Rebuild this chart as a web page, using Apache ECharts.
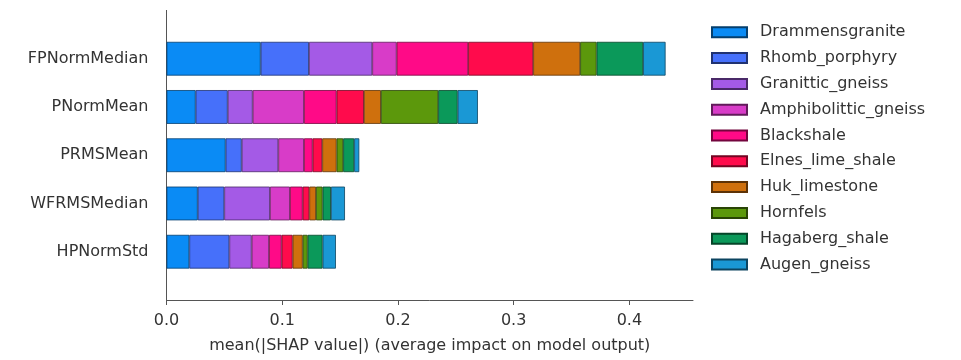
<!DOCTYPE html>
<html>
<head>
<meta charset="utf-8">
<script src="https://cdn.jsdelivr.net/npm/echarts@6/dist/echarts.min.js"></script>
<style>
html,body{margin:0;padding:0;background:#fff;}
#chart{width:961px;height:360px;}
</style>
</head>
<body>
<div id="chart"></div>
<script>
// ---- data ----
const features = ['FPNormMedian', 'PNormMean', 'PRMSMean', 'WFRMSMedian', 'HPNormStd'];
const classNames = ['Drammensgranite', 'Rhomb_porphyry', 'Granittic_gneiss', 'Amphibolittic_gneiss', 'Blackshale',
  'Elnes_lime_shale', 'Huk_limestone', 'Hornfels', 'Hagaberg_shale', 'Augen_gneiss'];
const Drammensgranite      = [0.0814, 0.0252, 0.0511, 0.0270, 0.0197];
const Rhomb_porphyry       = [0.0417, 0.0277, 0.0139, 0.0229, 0.0346];
const Granittic_gneiss     = [0.0547, 0.0216, 0.0316, 0.0395, 0.0193];
const Amphibolittic_gneiss = [0.0211, 0.0443, 0.0222, 0.0173, 0.0150];
const Blackshale           = [0.0618, 0.0282, 0.0075, 0.0110, 0.0109];
const Elnes_lime_shale     = [0.0562, 0.0236, 0.0083, 0.0057, 0.0095];
const Huk_limestone        = [0.0406, 0.0147, 0.0124, 0.0058, 0.0087];
const Hornfels             = [0.0142, 0.0495, 0.0057, 0.0057, 0.0043];
const Hagaberg_shale       = [0.0402, 0.0168, 0.0095, 0.0072, 0.0129];
const Augen_gneiss         = [0.0194, 0.0175, 0.0044, 0.0121, 0.0115];
const xTickValues = [0, 0.1, 0.2, 0.3, 0.4];
const xTickLabels = ['0.0', '0.1', '0.2', '0.3', '0.4'];
const xTitle = 'mean(|SHAP value|) (average impact on model output)';

// ---- styles ----
const seriesValues = [Drammensgranite, Rhomb_porphyry, Granittic_gneiss, Amphibolittic_gneiss, Blackshale,
  Elnes_lime_shale, Huk_limestone, Hornfels, Hagaberg_shale, Augen_gneiss];
const colors = ['#0a8bf5', '#4670fa', '#a45ae6', '#d83cc8', '#ff0a87', '#ff0b4c', '#cf700d', '#5c980c', '#0b995a', '#1a98d5'];
function darken(hex, f) {
  const n = parseInt(hex.slice(1), 16);
  const r = Math.round(((n >> 16) & 255) * f), g = Math.round(((n >> 8) & 255) * f), b = Math.round((n & 255) * f);
  return 'rgb(' + r + ',' + g + ',' + b + ')';
}
const FONT = 'DejaVu Sans';
const X0 = 166.5, XW = 526.5, XMAX = 0.455;

const chart = echarts.init(document.getElementById('chart'), null, {renderer: 'canvas'});
const option = {
  animation: false,
  backgroundColor: '#fff',
  textStyle: {fontFamily: FONT},
  grid: [
    {left: X0, top: 10.4, width: XW, height: 289.6, containLabel: false},
    {left: X0, top: 34.6, width: XW, height: 241.25, containLabel: false}
  ],
  xAxis: [
    {
      gridIndex: 0, type: 'value', min: 0, max: XMAX,
      axisLine: {show: true, lineStyle: {color: '#555', width: 1}},
      axisTick: {show: true, length: 5, lineStyle: {color: '#555'}, customValues: xTickValues},
      axisLabel: {show: true, fontSize: 16, color: '#333', margin: 13, fontFamily: FONT,
        customValues: xTickValues,
        formatter: v => { const i = xTickValues.findIndex(t => Math.abs(t - v) < 1e-9); return i >= 0 ? xTickLabels[i] : ''; }},
      splitLine: {show: false},
      name: xTitle, nameLocation: 'middle', nameGap: 38,
      nameTextStyle: {fontSize: 16, color: '#333', fontFamily: FONT}
    },
    {gridIndex: 1, type: 'value', min: 0, max: XMAX, show: false, splitLine: {show: false}}
  ],
  yAxis: [
    {
      gridIndex: 0, type: 'value', min: 0, max: 1,
      axisLine: {show: true, onZero: false, lineStyle: {color: '#555', width: 1}},
      axisTick: {show: false}, axisLabel: {show: false}, splitLine: {show: false}
    },
    {
      gridIndex: 1, type: 'category', inverse: true, data: features,
      axisLine: {show: false}, axisTick: {show: false},
      axisLabel: {fontSize: 16, color: '#333', margin: 18, fontFamily: FONT},
      splitLine: {show: false}
    }
  ],
  legend: {
    orient: 'vertical', left: 711, top: 24.3, padding: 0,
    itemWidth: 35, itemHeight: 10, itemGap: 9.8, icon: 'rect',
    textStyle: {fontSize: 16, color: '#333', lineHeight: 16, fontFamily: FONT, padding: [0, 0, 0, 8]},
    data: classNames
  },
  series: classNames.map((name, i) => ({
    name: name, type: 'bar', stack: 'total',
    xAxisIndex: 1, yAxisIndex: 1, barWidth: '70%',
    itemStyle: {color: colors[i], borderColor: darken(colors[i], 0.45), borderWidth: 0.8, borderRadius: 0},
    emphasis: {disabled: true},
    data: seriesValues[i]
  }))
};
chart.setOption(option);
</script>
</body>
</html>
